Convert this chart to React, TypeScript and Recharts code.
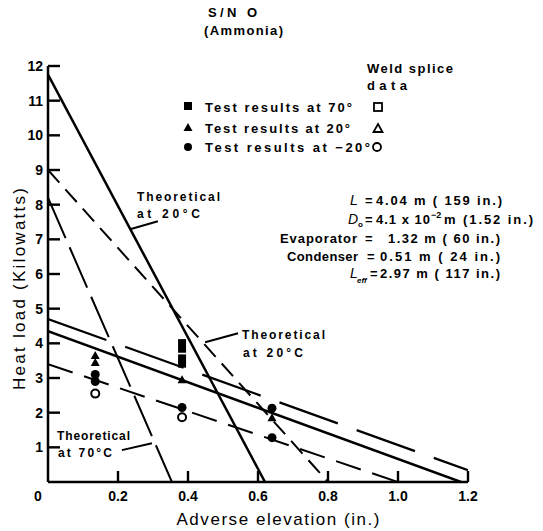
import React from "react";
import {
    ComposedChart,
    Line,
    Scatter,
    XAxis,
    YAxis,
    ReferenceLine,
} from "recharts";

// theoretical limits, elevation (in.) vs heat load (kW)
const theory20Steep = [{ x: 0, y: 11.75 }, { x: 0.62, y: 0 }];
const theory20Dashed = [{ x: 0, y: 9.0 }, { x: 0.8, y: 0 }];
const theory70 = [{ x: 0, y: 8.2 }, { x: 0.354, y: 0 }];
const theory20Solid = [{ x: 0, y: 4.35 }, { x: 1.18, y: 0 }];
const upperLongDash = [{ x: 0, y: 4.7 }, { x: 1.2, y: 0.34 }];
const lowerDashed = [{ x: 0, y: 3.4 }, { x: 1.0, y: 0 }];

// measured points
const test70 = [
    { x: 0.383, y: 4.02 },
    { x: 0.383, y: 3.83 },
    { x: 0.383, y: 3.58 },
    { x: 0.383, y: 3.4 },
];
const test20 = [
    { x: 0.135, y: 3.65 },
    { x: 0.135, y: 3.45 },
    { x: 0.383, y: 2.95 },
    { x: 0.64, y: 1.85 },
];
const testMinus20 = [
    { x: 0.135, y: 3.1 },
    { x: 0.135, y: 2.9 },
    { x: 0.383, y: 2.15 },
    { x: 0.64, y: 2.13 },
    { x: 0.64, y: 1.28 },
];
const weldMinus20 = [
    { x: 0.135, y: 2.55 },
    { x: 0.383, y: 1.87 },
];

const xTicks = [0, 0.2, 0.4, 0.6, 0.8, 1.0, 1.2];
const xTickLabels = ["0", "0.2", "0.4", "0.6", "0.8", "1.0", "1.2"];
const yTicks = [1, 2, 3, 4, 5, 6, 7, 8, 9, 10, 11, 12];
const X_MAX = 1.2;
const Y_MAX = 12;

const legendLabels = [
    "Test results at 70°",
    "Test results at 20°",
    "Test results at \u221220°",
];

const FONT = "'Liberation Sans', Arial, sans-serif";

// chart layout; margins below are derived from this
const W = 543;
const H = 531;
const PLOT = { left: 48, top: 66, right: 468, bottom: 482 };
const tickX = (v: number) => PLOT.left + (v / X_MAX) * (PLOT.right - PLOT.left);
const tickY = (v: number) => PLOT.bottom - (v / Y_MAX) * (PLOT.bottom - PLOT.top);

type TxtProps = {
    x: number;
    y: number;
    w?: number;
    size?: number;
    weight?: number;
    anchor?: "start" | "middle" | "end";
    italic?: boolean;
    transform?: string;
    children: React.ReactNode;
};

const Txt = ({ x, y, w, size = 13, weight = 700, anchor = "start", italic, transform, children }: TxtProps) => (
    <text
        x={x}
        y={y}
        fontSize={size}
        fontWeight={weight}
        fontFamily={FONT}
        fontStyle={italic ? "italic" : "normal"}
        textAnchor={anchor}
        textLength={w}
        lengthAdjust={w ? "spacing" : undefined}
        transform={transform}
        fill="#000"
    >
        {children}
    </text>
);

const FilledSquare = (p: any) => <rect x={p.cx - 4} y={p.cy - 3.5} width={8} height={7} fill="#000" />;
const FilledTriangle = (p: any) => (
    <polygon points={`${p.cx},${p.cy - 4.5} ${p.cx + 4.5},${p.cy + 3.5} ${p.cx - 4.5},${p.cy + 3.5}`} fill="#000" />
);
const FilledCircle = (p: any) => <circle cx={p.cx} cy={p.cy} r={4.5} fill="#000" />;
const OpenCircle = (p: any) => <circle cx={p.cx} cy={p.cy} r={4} fill="#fff" stroke="#000" strokeWidth={2} />;

const XTick = (props: any) => {
    const { x, y, payload } = props;
    const i = xTicks.indexOf(payload.value);
    const label = i >= 0 ? xTickLabels[i] : String(payload.value);
    return (
        <text x={payload.value === 0 ? x - 10 : x} y={y + 11} textAnchor="middle" fontSize={14} fontWeight={700} fontFamily={FONT} fill="#000">
            {label}
        </text>
    );
};

const YTick = (props: any) => {
    const { x, y, payload } = props;
    return (
        <text x={x} y={y + 5} textAnchor="end" fontSize={14} fontWeight={700} fontFamily={FONT} fill="#000">
            {payload.value}
        </text>
    );
};

// inward tick marks, laid over the chart on the same plot geometry
const TickOverlay = () => (
    <svg
        width={W}
        height={H}
        style={{ position: "absolute", left: 0, top: 0, pointerEvents: "none" }}
    >
        {xTicks.filter((v) => v > 0).map((v) => (
            <rect key={`xt${v}`} x={tickX(v) - 1.2} y={PLOT.bottom - 11} width={2.4} height={11} fill="#000" />
        ))}
        {yTicks.map((v) => (
            <rect key={`yt${v}`} x={PLOT.left} y={tickY(v) - 1.2} width={12} height={2.4} fill="#000" />
        ))}
    </svg>
);

export default function App() {
    const solid = { stroke: "#000", strokeWidth: 2.5, dot: false, activeDot: false, isAnimationActive: false, type: "linear" as const };
    return (
        <div style={{ position: "relative", width: W, height: H, background: "#fff" }}>
            <style>{`body{margin:0;background:#fff}`}</style>
            <ComposedChart
                width={W}
                height={H}
                margin={{ top: PLOT.top, right: W - PLOT.right, bottom: 0, left: 0 }}
            >
                <XAxis
                    dataKey="x"
                    type="number"
                    domain={[0, X_MAX]}
                    ticks={xTicks}
                    allowDataOverflow
                    height={H - PLOT.bottom}
                    axisLine={{ stroke: "#000", strokeWidth: 2.5 }}
                    tickLine={false}
                    tickSize={0}
                    tickMargin={8}
                    tick={<XTick />}
                    interval={0}
                />
                <YAxis
                    dataKey="y"
                    type="number"
                    domain={[0, Y_MAX]}
                    ticks={yTicks}
                    allowDataOverflow
                    width={PLOT.left}
                    axisLine={{ stroke: "#000", strokeWidth: 2.5 }}
                    tickLine={false}
                    tickSize={0}
                    tickMargin={5}
                    tick={<YTick />}
                    interval={0}
                />

                <Line data={theory20Steep} dataKey="y" {...solid} />
                <Line data={theory20Solid} dataKey="y" {...solid} />
                <Line data={theory20Dashed} dataKey="y" {...solid} strokeWidth={2} strokeDasharray="17 9" />
                <Line data={theory70} dataKey="y" {...solid} strokeWidth={2} strokeDasharray="44 10" />
                <Line data={upperLongDash} dataKey="y" {...solid} strokeWidth={2.2} strokeDasharray="62 20" />
                <Line data={lowerDashed} dataKey="y" {...solid} strokeWidth={2} strokeDasharray="26 12" />

                <Scatter data={test70} shape={FilledSquare} isAnimationActive={false} />
                <Scatter data={test20} shape={FilledTriangle} isAnimationActive={false} />
                <Scatter data={testMinus20} shape={FilledCircle} isAnimationActive={false} />
                <Scatter data={weldMinus20} shape={OpenCircle} isAnimationActive={false} />

                {/* leader lines from the curve labels */}
                <ReferenceLine segment={[{ x: 0.237, y: 7.3 }, { x: 0.314, y: 7.52 }]} stroke="#000" strokeWidth={2} ifOverflow="visible" />
                <ReferenceLine segment={[{ x: 0.449, y: 4.03 }, { x: 0.543, y: 4.29 }]} stroke="#000" strokeWidth={2} ifOverflow="visible" />
                <ReferenceLine segment={[{ x: 0.211, y: 0.92 }, { x: 0.297, y: 1.12 }]} stroke="#000" strokeWidth={2} ifOverflow="visible" />

                {/* title */}
                <Txt x={208} y={17} w={49}>S/N O</Txt>
                <Txt x={204} y={35} w={79}>(Ammonia)</Txt>

                {/* legend */}
                <Txt x={367} y={73} w={86}>Weld splice</Txt>
                <Txt x={367} y={90} w={40}>data</Txt>
                <rect x={184} y={102} width={8} height={8} fill="#000" />
                <polygon points="188,123 192.5,131 183.5,131" fill="#000" />
                <circle cx={188} cy={147} r={4} fill="#000" />
                <Txt x={205} y={112} w={147}>{legendLabels[0]}</Txt>
                <Txt x={205} y={133} w={145}>{legendLabels[1]}</Txt>
                <Txt x={205} y={152} w={165}>{legendLabels[2]}</Txt>
                <rect x={374} y={103} width={8} height={8} fill="#fff" stroke="#000" strokeWidth={1.8} />
                <polygon points="378,124 382.5,132 373.5,132" fill="#fff" stroke="#000" strokeWidth={1.8} />
                <circle cx={377} cy={147} r={4} fill="#fff" stroke="#000" strokeWidth={1.8} />

                {/* pipe dimensions */}
                <Txt x={350} y={205} italic weight={400} size={14}>L</Txt>
                <Txt x={365} y={205}>=</Txt>
                <Txt x={376} y={205} w={126}>4.04 m ( 159 in.)</Txt>
                <Txt x={348} y={224} italic weight={400} size={14}>D</Txt>
                <Txt x={358} y={227} size={8}>o</Txt>
                <Txt x={365} y={224}>=</Txt>
                <Txt x={376} y={224} w={54}>4.1 x 10</Txt>
                <Txt x={431} y={218} size={9}>{"\u22122"}</Txt>
                <Txt x={444} y={224} w={89}>m (1.52 in.)</Txt>
                <Txt x={357} y={243} anchor="end" w={77}>Evaporator</Txt>
                <Txt x={365} y={243}>=</Txt>
                <Txt x={388} y={243} w={112}>1.32 m ( 60 in.)</Txt>
                <Txt x={358} y={261} anchor="end" w={71}>Condenser</Txt>
                <Txt x={367} y={261}>=</Txt>
                <Txt x={380} y={261} w={120}>0.51 m ( 24 in.)</Txt>
                <Txt x={350} y={278} italic weight={400} size={14}>L</Txt>
                <Txt x={357} y={283} size={8} italic>eff</Txt>
                <Txt x={370} y={278}>=</Txt>
                <Txt x={380} y={278} w={120}>2.97 m ( 117 in.)</Txt>

                {/* curve labels */}
                <Txt x={137} y={201} w={83} size={12}>Theoretical</Txt>
                <Txt x={137} y={218} w={63} size={12}>at 20°C</Txt>
                <Txt x={242} y={339} w={83} size={12}>Theoretical</Txt>
                <Txt x={243} y={357} w={60} size={12}>at 20°C</Txt>
                <Txt x={57} y={440} w={73} size={12}>Theoretical</Txt>
                <Txt x={58} y={457} w={54} size={12}>at 70°C</Txt>

                {/* axis titles */}
                <Txt x={278} y={525} w={203} size={17} weight={400} anchor="middle">Adverse elevation (in.)</Txt>
                <Txt x={0} y={0} w={202} size={17} weight={400} anchor="middle" transform="translate(25,289) rotate(-90)">
                    Heat load (Kilowatts)
                </Txt>
            </ComposedChart>
            <TickOverlay />
        </div>
    );
}
